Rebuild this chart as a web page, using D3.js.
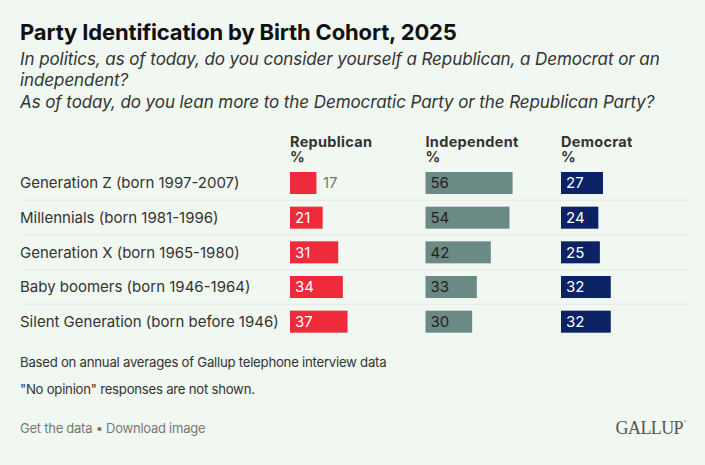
<!DOCTYPE html>
<html>
<head>
<meta charset="utf-8">
<script src="https://cdn.jsdelivr.net/npm/d3@7"></script>
<style>
  html, body { margin: 0; padding: 0; background: #f1f7f1; }
  svg { display: block; font-family: Inter, "Noto Sans", sans-serif; }
</style>
</head>
<body>
<div id="chart"></div>
<script>
// data
const cohorts = [
  "Generation Z (born 1997-2007)",
  "Millennials (born 1981-1996)",
  "Generation X (born 1965-1980)",
  "Baby boomers (born 1946-1964)",
  "Silent Generation (born before 1946)"
];
const parties = ["Republican", "Independent", "Democrat"];
const republican = [17, 21, 31, 34, 37];
const independent = [56, 54, 42, 33, 30];
const democrat = [27, 24, 25, 32, 32];

const title = "Party Identification by Birth Cohort, 2025";
const subtitle = [
  "In politics, as of today, do you consider yourself a Republican, a Democrat or an",
  "independent?",
  "As of today, do you lean more to the Democratic Party or the Republican Party?"
];
const notes = [
  "Based on annual averages of Gallup telephone interview data",
  "\"No opinion\" responses are not shown."
];

const width = 705, height = 465;
const colors = { Republican: "#ee2a3b", Independent: "#6b8985", Democrat: "#0b2265" };
const inkInside = { Republican: "#fff", Independent: "#222", Democrat: "#fff" };

const svg = d3.select("#chart").append("svg")
  .attr("width", width).attr("height", height);

svg.append("rect").attr("width", width).attr("height", height).attr("fill", "#f1f7f1");

// title + subtitle
svg.append("text")
  .attr("x", 20).attr("y", 39.5)
  .attr("font-size", 22).attr("font-weight", 700).attr("fill", "#111")
  .attr("letter-spacing", -0.15)
  .text(title);

svg.append("g").selectAll("text")
  .data(subtitle).join("text")
  .attr("x", 20).attr("y", (d, i) => 64.5 + i * 21.7)
  .attr("font-size", 17).attr("font-style", "italic").attr("fill", "#333")
  .attr("letter-spacing", -0.08)
  .text(d => d);

// scales
const col = d3.scalePoint().domain(parties).range([290, 561]);
const x = d3.scaleLinear().domain([0, 100]).range([0, 155.5]);
const y = d3.scaleBand().domain(cohorts).range([165.67, 339])
  .paddingInner(0.365).paddingOuter(0.1825);

// column headers
const head = svg.append("g").selectAll("text")
  .data(parties).join("text")
  .attr("x", d => col(d)).attr("y", 147.3)
  .attr("font-size", 14.5).attr("font-weight", 700).attr("fill", "#333")
  .attr("letter-spacing", 0.3);
head.append("tspan").text(d => d);
head.append("tspan").attr("x", d => col(d)).attr("dy", 14.4).text("%");

// separators
const gap = y.step() - y.bandwidth();
svg.append("g").selectAll("line")
  .data(cohorts.slice(0, -1)).join("line")
  .attr("x1", 20).attr("x2", 687)
  .attr("y1", d => y(d) + y.bandwidth() + gap / 2)
  .attr("y2", d => y(d) + y.bandwidth() + gap / 2)
  .attr("stroke", "#d6dcd6").attr("stroke-dasharray", "1,1");

// row labels
svg.append("g").selectAll("text")
  .data(cohorts).join("text")
  .attr("x", 20).attr("y", d => y(d) + y.bandwidth() / 2)
  .attr("dy", "0.35em")
  .attr("font-size", 15).attr("fill", "#333")
  .text(d => d);

// bars
const series = { Republican: republican, Independent: independent, Democrat: democrat };
const cells = [];
parties.forEach(p => series[p].forEach((v, i) => cells.push({ party: p, cohort: cohorts[i], value: v })));

const cell = svg.append("g").selectAll("g")
  .data(cells).join("g")
  .attr("transform", d => `translate(${col(d.party)},${y(d.cohort)})`);

cell.append("rect")
  .attr("width", d => x(d.value))
  .attr("height", y.bandwidth())
  .attr("fill", d => colors[d.party]);

cell.append("text")
  .attr("y", y.bandwidth() / 2).attr("dy", "0.36em")
  .attr("font-size", 15)
  .text(d => d.value)
  .each(function (d) {
    const w = this.getComputedTextLength();
    const inside = w + 14 <= x(d.value);
    d3.select(this)
      .attr("x", inside ? 5 : x(d.value) + 6.5)
      .attr("fill", inside ? inkInside[d.party] : "#777");
  });

// notes
svg.append("g").selectAll("text")
  .data(notes).join("text")
  .attr("x", 20).attr("y", (d, i) => 366.7 + i * 27.3)
  .attr("font-size", 13.2).attr("fill", "#333")
  .attr("letter-spacing", -0.25)
  .text(d => d);

svg.append("text")
  .attr("x", 20).attr("y", 432.7)
  .attr("font-size", 13).attr("fill", "#777")
  .attr("letter-spacing", -0.25)
  .text("Get the data \u2022 Download image");

// logo
svg.append("text")
  .attr("x", 683).attr("y", 434)
  .attr("text-anchor", "end")
  .attr("font-family", "'Liberation Serif', 'DejaVu Serif', serif")
  .attr("font-size", 18).attr("fill", "#555")
  .attr("letter-spacing", -0.6)
  .text("GALLUP");
svg.append("text")
  .attr("x", 684).attr("y", 423)
  .attr("font-size", 3).attr("fill", "#777")
  .text("\u00ae");
</script>
</body>
</html>
